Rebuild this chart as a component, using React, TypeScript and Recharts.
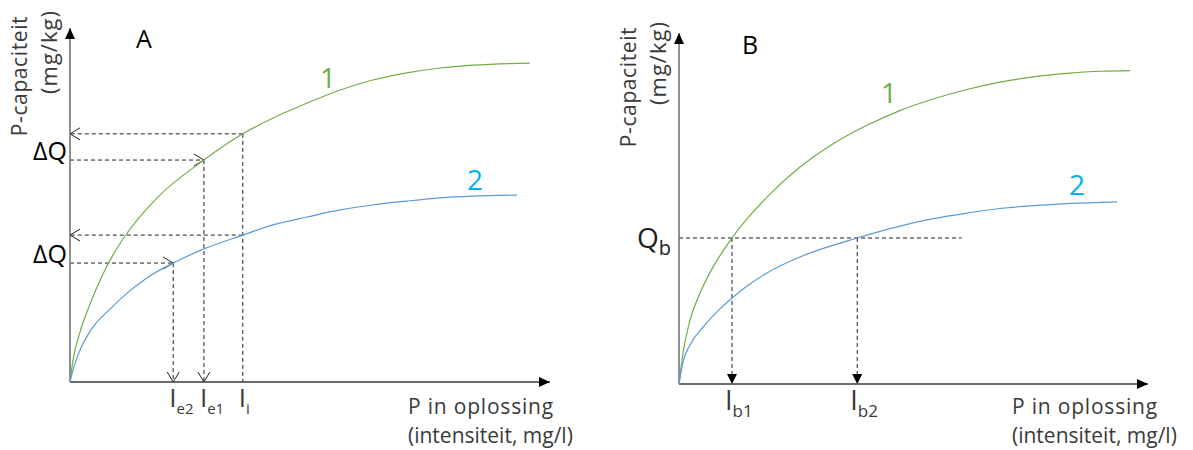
import React from "react";
import { LineChart, Line, XAxis, YAxis, ReferenceLine } from "recharts";

const FONT = "'Open Sans', 'Noto Sans', sans-serif";

// Panel A: curves (x and q both on a 0-100 scale)
const curveA1 = [
  { x: 0, q: 0 }, { x: 0.63, q: 6.2 }, { x: 2.08, q: 14.1 }, { x: 4.17, q: 22.0 },
  { x: 6.88, q: 30.5 }, { x: 8.96, q: 35.9 }, { x: 11.04, q: 40.4 }, { x: 18.13, q: 52.0 },
  { x: 27.9, q: 62.7 }, { x: 36.0, q: 70.1 }, { x: 42.3, q: 74.6 }, { x: 49.4, q: 78.8 },
  { x: 56.3, q: 82.5 }, { x: 63.1, q: 85.3 }, { x: 70.2, q: 87.3 }, { x: 77.1, q: 88.7 },
  { x: 84.0, q: 89.5 }, { x: 95.8, q: 90.1 },
];
const curveA2 = [
  { x: 0, q: 0 }, { x: 0.63, q: 3.4 }, { x: 2.08, q: 9.0 }, { x: 4.79, q: 15.5 },
  { x: 8.33, q: 20.6 }, { x: 11.9, q: 25.1 }, { x: 16.0, q: 29.4 }, { x: 21.5, q: 33.6 },
  { x: 27.9, q: 37.6 }, { x: 36.0, q: 41.5 }, { x: 42.3, q: 44.4 }, { x: 49.4, q: 46.6 },
  { x: 56.3, q: 48.6 }, { x: 63.1, q: 50.0 }, { x: 70.2, q: 51.1 }, { x: 77.1, q: 52.0 },
  { x: 84.0, q: 52.5 }, { x: 93.1, q: 52.8 },
];
const ticksA = [21.5, 27.9, 36.0]; // Ie2, Ie1, Ii
const tickSubA = ["e2", "e1", "i"];
const qA = [70.1, 62.7, 41.5, 33.6]; // Q1(Ii), Q1(Ie1), Q2(Ii), Q2(Ie2)
const deltaQTicks = [62.7, 33.6];

// Panel B
const curveB1 = [
  { x: 0, q: 0 }, { x: 0.85, q: 8.8 }, { x: 2.35, q: 18.2 }, { x: 4.48, q: 25.9 },
  { x: 7.25, q: 33.3 }, { x: 11.3, q: 41.6 }, { x: 18.8, q: 53.3 }, { x: 25.8, q: 61.8 },
  { x: 32.8, q: 68.4 }, { x: 40.1, q: 73.7 }, { x: 47.1, q: 77.9 }, { x: 54.2, q: 81.2 },
  { x: 61.4, q: 83.9 }, { x: 68.4, q: 86.0 }, { x: 75.5, q: 87.5 }, { x: 82.7, q: 88.5 },
  { x: 89.8, q: 89.1 }, { x: 96.2, q: 89.3 },
];
const curveB2 = [
  { x: 0, q: 0 }, { x: 0.85, q: 6.3 }, { x: 2.35, q: 11.1 }, { x: 5.12, q: 16.2 },
  { x: 8.74, q: 21.4 }, { x: 11.3, q: 24.5 }, { x: 15.8, q: 29.1 }, { x: 21.5, q: 33.6 },
  { x: 25.8, q: 36.2 }, { x: 38.0, q: 41.6 }, { x: 47.1, q: 45.0 }, { x: 54.2, q: 47.1 },
  { x: 61.4, q: 48.7 }, { x: 68.4, q: 50.0 }, { x: 75.5, q: 50.8 }, { x: 82.7, q: 51.4 },
  { x: 93.4, q: 51.9 },
];
const ticksB = [11.3, 38.0]; // Ib1, Ib2
const tickSubB = ["b1", "b2"];
const qB = 41.6;
const qBLineEnd = 60.3;

const GREEN = "#70AD47";
const BLUE = "#5B9BD5";
const LABEL_BLUE = "#00B0F0";
const TEXT = "#3a3a3a";

const dashed = (marker?: string) => (p: any) => (
  <line
    x1={p.x1} y1={p.y1} x2={p.x2} y2={p.y2}
    stroke="#222" strokeWidth={1} strokeDasharray="4 3"
    markerEnd={marker ? `url(#${marker})` : undefined}
  />
);

const axisLine = (color: string) => (p: any) => (
  <line x1={p.x1} y1={p.y1} x2={p.x2} y2={p.y2} stroke={color} strokeWidth={1.5} markerEnd="url(#axisHead)" />
);

const subTick = (ticks: number[], subs: string[], shift: number, dy: number, size: number, subSize: number) => (p: any) => {
  const i = ticks.indexOf(p.payload.value);
  return (
    <text x={p.x + shift} y={p.y + dy} fontFamily={FONT} fontSize={size} fill={TEXT} textAnchor="start">
      <tspan>I</tspan>
      <tspan fontSize={subSize} dy={7}>{subs[i]}</tspan>
    </text>
  );
};

const deltaQTick = (p: any) => (
  <text x={p.x - 3} y={p.y} fontFamily={FONT} fontSize={25} fill="#000" textAnchor="end">ΔQ</text>
);

const qbTick = (p: any) => (
  <text x={p.x - 8} y={p.y + 10} fontFamily={FONT} fontSize={28} fill="#222" textAnchor="end">
    <tspan>Q</tspan>
    <tspan fontSize={20} dy={7}>b</tspan>
  </text>
);

const curve = (data: any[], color: string) => (
  <Line data={data} dataKey="q" type="monotone" stroke={color} strokeWidth={1.2} dot={false} isAnimationActive={false} />
);

export default function App() {
  return (
    <div style={{ position: "absolute", left: 0, top: 0, width: 1193, height: 450, background: "#fff" }}>
      <svg width={0} height={0} style={{ position: "absolute" }}>
        <defs>
          <marker id="openHead" markerUnits="userSpaceOnUse" markerWidth={14} markerHeight={14} refX={10} refY={6} orient="auto" overflow="visible">
            <path d="M0,0 L10,6 L0,12" fill="none" stroke="#222" strokeWidth={1} />
          </marker>
          <marker id="solidHead" markerUnits="userSpaceOnUse" markerWidth={12} markerHeight={12} refX={10} refY={5} orient="auto" overflow="visible">
            <path d="M0,0 L10,5 L0,10 Z" fill="#000" />
          </marker>
          <marker id="axisHead" markerUnits="userSpaceOnUse" markerWidth={12} markerHeight={12} refX={11} refY={5} orient="auto" overflow="visible">
            <path d="M0,0 L11,5 L0,10 Z" fill="#000" />
          </marker>
        </defs>
      </svg>

      <div style={{ position: "absolute", left: 0, top: 0 }}>
        <LineChart width={596} height={450} margin={{ top: 28, right: 46, bottom: 0, left: 0 }}>
          <XAxis type="number" dataKey="x" domain={[0, 100]} allowDataOverflow ticks={ticksA} interval={0}
            axisLine={false} tickLine={false} tickSize={0} tickMargin={0} height={68}
            tick={subTick(ticksA, tickSubA, -4, 25, 26, 15)} />
          <YAxis type="number" dataKey="q" domain={[0, 100]} allowDataOverflow ticks={deltaQTicks} interval={0}
            axisLine={false} tickLine={false} tickSize={0} tickMargin={0} width={70} tick={deltaQTick} />
          <ReferenceLine segment={[{ x: ticksA[2], y: qA[0] }, { x: 0, y: qA[0] }]} shape={dashed("openHead")} />
          <ReferenceLine segment={[{ x: 0, y: qA[1] }, { x: ticksA[1], y: qA[1] }]} shape={dashed("openHead")} />
          <ReferenceLine segment={[{ x: ticksA[1], y: qA[1] }, { x: ticksA[1], y: 0 }]} shape={dashed("openHead")} />
          <ReferenceLine segment={[{ x: ticksA[2], y: qA[0] }, { x: ticksA[2], y: 0 }]} shape={dashed()} />
          <ReferenceLine segment={[{ x: ticksA[2], y: qA[2] }, { x: 0, y: qA[2] }]} shape={dashed("openHead")} />
          <ReferenceLine segment={[{ x: 0, y: qA[3] }, { x: ticksA[0], y: qA[3] }]} shape={dashed("openHead")} />
          <ReferenceLine segment={[{ x: ticksA[0], y: qA[3] }, { x: ticksA[0], y: 0 }]} shape={dashed("openHead")} />
          <ReferenceLine segment={[{ x: 0, y: 0 }, { x: 0, y: 100 }]} shape={axisLine("#6b6b6b")} />
          <ReferenceLine segment={[{ x: 0, y: 0 }, { x: 100, y: 0 }]} shape={axisLine("#3a3a3a")} />
          {curve(curveA1, GREEN)}
          {curve(curveA2, BLUE)}
        </LineChart>
      </div>

      <div style={{ position: "absolute", left: 596, top: 0 }}>
        <LineChart width={597} height={450} margin={{ top: 33, right: 45, bottom: 0, left: 0 }}>
          <XAxis type="number" dataKey="x" domain={[0, 100]} allowDataOverflow ticks={ticksB} interval={0}
            axisLine={false} tickLine={false} tickSize={0} tickMargin={0} height={66}
            tick={subTick(ticksB, tickSubB, -7, 26, 27, 17)} />
          <YAxis type="number" dataKey="q" domain={[0, 100]} allowDataOverflow ticks={[qB]} interval={0}
            axisLine={false} tickLine={false} tickSize={0} tickMargin={0} width={83} tick={qbTick} />
          <ReferenceLine segment={[{ x: 0, y: qB }, { x: qBLineEnd, y: qB }]} shape={dashed()} />
          <ReferenceLine segment={[{ x: ticksB[0], y: qB }, { x: ticksB[0], y: 0 }]} shape={dashed("solidHead")} />
          <ReferenceLine segment={[{ x: ticksB[1], y: qB }, { x: ticksB[1], y: 0 }]} shape={dashed("solidHead")} />
          <ReferenceLine segment={[{ x: 0, y: 0 }, { x: 0, y: 100 }]} shape={axisLine("#6b6b6b")} />
          <ReferenceLine segment={[{ x: 0, y: 0 }, { x: 100, y: 0 }]} shape={axisLine("#3a3a3a")} />
          {curve(curveB1, GREEN)}
          {curve(curveB2, BLUE)}
        </LineChart>
      </div>

      <svg width={1193} height={450} style={{ position: "absolute", left: 0, top: 0, pointerEvents: "none" }} fontFamily={FONT}>
        <text x={144} y={48} fontSize={25} textAnchor="middle" fill="#000">A</text>
        <text x={750} y={54} fontSize={25} textAnchor="middle" fill="#000">B</text>

        <text x={27} y={76} fontSize={21} letterSpacing={0.6} fill={TEXT} textAnchor="middle" transform="rotate(-90 27 76)">P-capaciteit</text>
        <text x={57} y={52} fontSize={22} letterSpacing={1} fill={TEXT} textAnchor="middle" transform="rotate(-90 57 52)">(mg/kg)</text>
        <text x={636} y={87} fontSize={21} letterSpacing={0.6} fill={TEXT} textAnchor="middle" transform="rotate(-90 636 87)">P-capaciteit</text>
        <text x={666} y={63} fontSize={22} letterSpacing={1} fill={TEXT} textAnchor="middle" transform="rotate(-90 666 63)">(mg/kg)</text>

        <text x={328} y={88} fontSize={28} textAnchor="middle" fill={GREEN}>1</text>
        <text x={475} y={190} fontSize={28} textAnchor="middle" fill={LABEL_BLUE}>2</text>
        <text x={889} y={103} fontSize={28} textAnchor="middle" fill={GREEN}>1</text>
        <text x={1077} y={195} fontSize={28} textAnchor="middle" fill={LABEL_BLUE}>2</text>

        <text x={408} y={414} fontSize={21} letterSpacing={0.8} fill={TEXT}>P in oplossing</text>
        <text x={408} y={443} fontSize={21} fill={TEXT}>(intensiteit, mg/l)</text>
        <text x={1012} y={414} fontSize={21} letterSpacing={0.8} fill={TEXT}>P in oplossing</text>
        <text x={1012} y={443} fontSize={21} fill={TEXT}>(intensiteit, mg/l)</text>
      </svg>
    </div>
  );
}
